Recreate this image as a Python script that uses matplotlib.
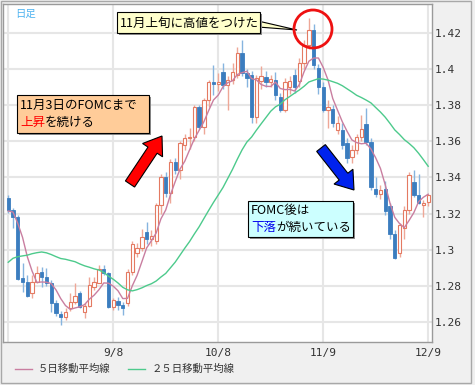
import numpy as np
import pandas as pd
import matplotlib
matplotlib.use("Agg")
import matplotlib.pyplot as plt
import matplotlib.patches as mpatches
import matplotlib.transforms as mtransforms

# ---- data (EUR/USD style daily candles) ----
dates = pd.bdate_range("2010-08-09", "2010-12-09")

opens = [1.3286, 1.3219, 1.3181, 1.2843, 1.2821, 1.2760, 1.2821, 1.2876, 1.2848, 1.2815,
         1.2704, 1.2643, 1.2627, 1.2677, 1.2710, 1.2760, 1.2654, 1.2688, 1.2793, 1.2815,
         1.2893, 1.2870, 1.2682, 1.2715, 1.2693, 1.2704, 1.2876, 1.2981, 1.3009, 1.3100,
         1.3060, 1.3050, 1.3247, 1.3402, 1.3314, 1.3485, 1.3441, 1.3580, 1.3620, 1.3626,
         1.3790, 1.3679, 1.3829, 1.3929, 1.3917, 1.3984, 1.3912, 1.3940, 1.3967, 1.4089,
         1.3978, 1.3967, 1.3735, 1.3935, 1.3956, 1.3929, 1.3940, 1.3846, 1.3773, 1.3900,
         1.3967, 1.3935, 1.4034, 1.4134, 1.4217, 1.4006, 1.3901, 1.3773, 1.3780, 1.3663,
         1.3663, 1.3591, 1.3513, 1.3552, 1.3624, 1.3696, 1.3596, 1.3336, 1.3308, 1.3336,
         1.3242, 1.3087, 1.2981, 1.3120, 1.3219, 1.3375, 1.3303, 1.3247, 1.3264]
highs = [1.3303, 1.3232, 1.3190, 1.2926, 1.2860, 1.2860, 1.2910, 1.2904, 1.2898, 1.2832,
         1.2720, 1.2660, 1.2677, 1.2760, 1.2815, 1.2770, 1.2704, 1.2848, 1.2848, 1.2915,
         1.2915, 1.2876, 1.2732, 1.2737, 1.2710, 1.2890, 1.3050, 1.3037, 1.3114, 1.3153,
         1.3110, 1.3260, 1.3420, 1.3430, 1.3500, 1.3510, 1.3600, 1.3640, 1.3674, 1.3800,
         1.3800, 1.3840, 1.3940, 1.4023, 1.3978, 1.4034, 1.3960, 1.4034, 1.4122, 1.4161,
         1.4000, 1.3990, 1.3970, 1.4020, 1.3990, 1.3967, 1.3985, 1.3870, 1.3950, 1.3960,
         1.4000, 1.4060, 1.4160, 1.4283, 1.4250, 1.4030, 1.3930, 1.3830, 1.3800, 1.3740,
         1.3700, 1.3620, 1.3580, 1.3640, 1.3746, 1.3785, 1.3620, 1.3400, 1.3360, 1.3380,
         1.3260, 1.3110, 1.3150, 1.3240, 1.3430, 1.3440, 1.3420, 1.3275, 1.3310]
lows = [1.3203, 1.3120, 1.2830, 1.2765, 1.2735, 1.2732, 1.2815, 1.2793, 1.2800, 1.2654,
        1.2630, 1.2582, 1.2610, 1.2660, 1.2700, 1.2675, 1.2621, 1.2682, 1.2776, 1.2815,
        1.2860, 1.2677, 1.2665, 1.2665, 1.2638, 1.2690, 1.2860, 1.2960, 1.2990, 1.3030,
        1.3020, 1.3030, 1.3200, 1.3290, 1.3260, 1.3420, 1.3390, 1.3550, 1.3560, 1.3600,
        1.3670, 1.3640, 1.3790, 1.3857, 1.3880, 1.3890, 1.3773, 1.3920, 1.3950, 1.3960,
        1.3900, 1.3700, 1.3700, 1.3890, 1.3900, 1.3900, 1.3830, 1.3760, 1.3760, 1.3860,
        1.3870, 1.3900, 1.4000, 1.4110, 1.4000, 1.3860, 1.3760, 1.3674, 1.3680, 1.3640,
        1.3560, 1.3480, 1.3480, 1.3530, 1.3600, 1.3580, 1.3330, 1.3290, 1.3280, 1.3190,
        1.3060, 1.2950, 1.2960, 1.3060, 1.3200, 1.3290, 1.3250, 1.3181, 1.3240]
closes = [1.3219, 1.3181, 1.2837, 1.2821, 1.2743, 1.2821, 1.2870, 1.2848, 1.2815, 1.2704,
          1.2649, 1.2627, 1.2654, 1.2710, 1.2743, 1.2682, 1.2688, 1.2804, 1.2821, 1.2893,
          1.2870, 1.2682, 1.2721, 1.2693, 1.2677, 1.2876, 1.3031, 1.3009, 1.3070, 1.3060,
          1.3075, 1.3247, 1.3402, 1.3314, 1.3485, 1.3441, 1.3591, 1.3620, 1.3626, 1.3790,
          1.3679, 1.3829, 1.3929, 1.3917, 1.3926, 1.3912, 1.3940, 1.3984, 1.4089, 1.3978,
          1.3951, 1.3735, 1.3950, 1.3960, 1.3929, 1.3945, 1.3857, 1.3773, 1.3929, 1.3935,
          1.3900, 1.4034, 1.4134, 1.4217, 1.4023, 1.3901, 1.3773, 1.3790, 1.3700, 1.3701,
          1.3580, 1.3508, 1.3552, 1.3624, 1.3668, 1.3596, 1.3347, 1.3308, 1.3330, 1.3214,
          1.3087, 1.2954, 1.3136, 1.3219, 1.3413, 1.3303, 1.3258, 1.3258, 1.3303]
# closes before the visible window (needed for the moving averages)
prior_closes = [1.2630, 1.2620, 1.2710, 1.2640, 1.2620, 1.2730, 1.2750, 1.2930, 1.2940, 1.2940,
                1.2890, 1.2760, 1.2880, 1.2910, 1.2990, 1.2950, 1.3000, 1.3040, 1.3060, 1.3190,
                1.3210, 1.3150, 1.3210, 1.3280]

tick_dates = ["2010-08-09", "2010-09-08", "2010-10-08", "2010-11-09", "2010-12-09"]
xtick_labels = ["", "9/8", "10/8", "11/9", "12/9"]
yticks = [1.26, 1.28, 1.30, 1.32, 1.34, 1.36, 1.38, 1.40, 1.42]
ytick_labels = ["1.26", "1.28", "1.3", "1.32", "1.34", "1.36", "1.38", "1.4", "1.42"]
legend_labels = ["５日移動平均線", "２５日移動平均線"]

# ---- figure ----
W, H = 475, 385
fig = plt.figure(figsize=(W / 100, H / 100), dpi=100, facecolor="#f0f0f0")
# pixel coords of the picture (y down) -> display coords
pix = mtransforms.Affine2D().scale(1, -1).translate(0, H)

L, R, T, B = 3, 432, 4, 342
ax = fig.add_axes([L / W, 1 - B / H, (R - L) / W, (B - T) / H])
ax.set_facecolor("white")

o = np.array(opens); h = np.array(highs); l = np.array(lows); c = np.array(closes)
x = np.arange(len(c))
assert len(dates) == len(c)

allc = pd.Series(prior_closes + closes)
ma5 = allc.rolling(5).mean().to_numpy()[len(prior_closes):]
ma25 = allc.rolling(25).mean().to_numpy()[len(prior_closes):]

up = c >= o
blue, blue_w = "#3b7dbf", "#86b4df"
red, red_w = "#e47a62", "#eea797"

ax.vlines(x[~up], l[~up], h[~up], color=blue_w, lw=1, zorder=2)
ax.vlines(x[up], l[up], h[up], color=red_w, lw=1, zorder=2)
ax.bar(x[~up], (o - c)[~up], bottom=c[~up], width=0.7, color=blue, edgecolor=blue,
       linewidth=0.6, zorder=3)
ax.bar(x[up], np.maximum((c - o)[up], 0.0002), bottom=o[up], width=0.7, color="white",
       edgecolor=red, linewidth=0.8, zorder=3)

ax.plot(x, ma5, color="#c97ea0", lw=1, zorder=4)
ax.plot(x, ma25, color="#4dca8c", lw=1, zorder=4)

tick_pos = [dates.get_loc(pd.Timestamp(d)) for d in tick_dates]
ax.set_xticks(tick_pos)
ax.set_xticklabels(xtick_labels, family="DejaVu Sans Mono", fontsize=8, color="#333333")
ax.set_yticks(yticks)
ax.set_yticklabels(ytick_labels, family="DejaVu Sans Mono", fontsize=8, color="#333333")
ax.yaxis.tick_right()
ax.tick_params(axis="y", length=0, pad=2)
ax.tick_params(axis="x", length=0, pad=4)
ax.grid(True, color="#e6e6e6", lw=1.5, zorder=0)
ax.set_axisbelow(True)
ax.set_xlim(-1.1, len(c) - 0.2)
ax.set_ylim(1.2488, 1.4361)
for s in ax.spines.values():
    s.set_color("#9a9a9a")
    s.set_linewidth(1)

jp = ["Noto Sans CJK JP", "DejaVu Sans"]

# outer frame
fig.add_artist(mpatches.Rectangle((0.5, 0.5), 470, 382, transform=pix, fill=False,
                                  ec="#a8a8a8", lw=1))

fig.text(15, 14, "日足", transform=pix, family=jp, fontsize=7.5, color="#4fb3f0", va="center")

# legend
fig.add_artist(plt.Line2D([15, 32], [369, 369], transform=pix, color="#c97ea0", lw=1))
fig.text(38, 369, legend_labels[0], transform=pix, family=jp, fontsize=7.5, color="#333333",
         va="center")
fig.add_artist(plt.Line2D([128, 145], [369, 369], transform=pix, color="#4dca8c", lw=1))
fig.text(152, 369, legend_labels[1], transform=pix, family=jp, fontsize=7.5, color="#333333",
         va="center")


def box(x0, y0, x1, y1, fc):
    fig.add_artist(mpatches.Rectangle((x0 + 2, y0 + 2), x1 - x0, y1 - y0, transform=pix,
                                      fc="#8c8c8c", ec="none"))
    fig.add_artist(mpatches.Rectangle((x0, y0), x1 - x0, y1 - y0, transform=pix,
                                      fc=fc, ec="black", lw=0.8))


def two_color(x0, y0, first, color, rest):
    t = fig.text(x0, y0, first, transform=pix, family=jp, fontsize=9, va="baseline", color=color)
    fig.canvas.draw()
    ext = t.get_window_extent()
    fig.text(ext.x1, y0, rest, transform=pix, family=jp, fontsize=9, va="baseline")


# callout: high in early November
fig.add_artist(mpatches.Polygon([(258, 21), (297, 30), (258, 27)], closed=True, transform=pix,
                                fc="#ffffcc", ec="black", lw=0.8))
box(117, 12, 260, 33, "#ffffcc")
fig.text(120, 27, "11月上旬に高値をつけた", transform=pix, family=jp, fontsize=9, va="baseline")
fig.add_artist(mpatches.Ellipse((313, 29), 38, 38, transform=pix, fill=False, ec="#ee1111", lw=2))

# rise until FOMC
box(17, 95, 149, 133, "#ffcc99")
fig.text(20, 109, "11月3日のFOMCまで", transform=pix, family=jp, fontsize=9, va="baseline")
two_color(20, 126, "上昇", "red", "を続ける")

# fall after FOMC
box(248, 201, 353, 237, "#ccffff")
fig.text(251, 214, "FOMC後は", transform=pix, family=jp, fontsize=9, va="baseline")
two_color(251, 231, "下落", "#0000ee", "が続いている")

# arrows
fig.add_artist(mpatches.FancyArrow(130, 184, 32, -48, width=11, head_width=24, head_length=17,
                                   length_includes_head=True, transform=pix,
                                   fc="#ff0000", ec="black", lw=0.8))
fig.add_artist(mpatches.FancyArrow(321, 148, 33, 42, width=11, head_width=24, head_length=17,
                                   length_includes_head=True, transform=pix,
                                   fc="#0022ee", ec="black", lw=0.8))

fig.savefig("out.png", dpi=100, facecolor=fig.get_facecolor())
